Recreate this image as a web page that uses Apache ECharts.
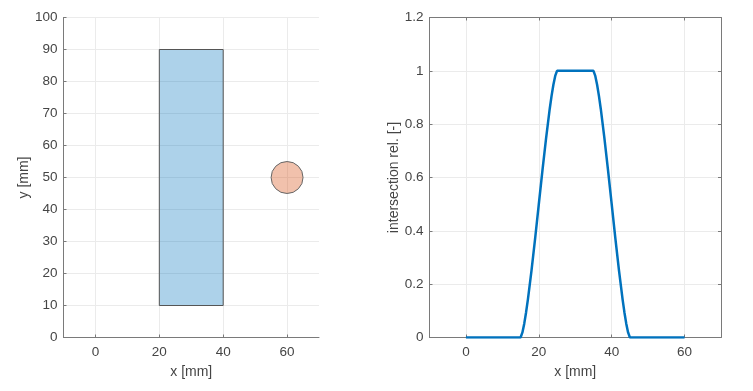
<!DOCTYPE html>
<html><head><meta charset="utf-8">
<script src="https://cdn.jsdelivr.net/npm/echarts@6/dist/echarts.min.js"></script>
<style>html,body{margin:0;padding:0;background:#fff}#c{width:753px;height:391px}</style>
</head><body><div id="c"></div>
<script>
// Left plot shapes
const rectX = [20, 40];
const rectY = [10, 90];
const circleCenter = [60, 50];
const circleRadius = 5;
// Right plot curve
const curveX = [0, 15, 15.5, 16, 16.5, 17, 18, 19, 20, 21, 22, 23, 23.5, 24, 24.5, 25, 35, 35.5, 36, 36.5, 37, 38, 39, 40, 41, 42, 43, 43.5, 44, 44.5, 45, 60];
const curveY = [0, 0, 0.019, 0.052, 0.094, 0.142, 0.252, 0.373, 0.5, 0.627, 0.748, 0.858, 0.906, 0.948, 0.981, 1, 1, 0.981, 0.948, 0.906, 0.858, 0.748, 0.627, 0.5, 0.373, 0.252, 0.142, 0.094, 0.052, 0.019, 0, 0];
// Tick labels
const xTicks = [0, 20, 40, 60];
const yTicksLeft = [0, 10, 20, 30, 40, 50, 60, 70, 80, 90, 100];
const yTicksRight = [0, 0.2, 0.4, 0.6, 0.8, 1, 1.2];

const FONT = 'Liberation Sans, Arial, sans-serif';
const AX = '#7a7a7a';
const LBL = '#454545';
const GRID = '#ebebeb';
const TFS = 13.5;
const NFS = 14;

function xAx(gi, show) {
  return {
    type: 'value', gridIndex: gi, min: -10, max: 70, interval: 20,
    position: show ? 'bottom' : 'top',
    name: show ? 'x [mm]' : '', nameLocation: 'middle', nameGap: 28,
    nameTextStyle: {fontFamily: FONT, fontSize: NFS, color: LBL},
    axisLine: {show: true, onZero: false, lineStyle: {color: AX, width: 1}},
    axisTick: {show: true, inside: true, length: 3, lineStyle: {color: AX},
      customValues: xTicks},
    axisLabel: {show: show, fontFamily: FONT, fontSize: TFS, color: LBL, margin: 8,
      customValues: xTicks},
    splitLine: {show: show, lineStyle: {color: GRID, width: 1}},
    splitArea: {show: false}
  };
}

const option = {
  animation: false,
  backgroundColor: '#fff',
  grid: [
    {left: 63.5, top: 17.5, width: 255.5, height: 320},
    {left: 429.5, top: 17.5, width: 291.5, height: 320}
  ],
  xAxis: [
    xAx(0, true),
    xAx(1, true),
    Object.assign(xAx(1, false), {splitLine: {show: false}, axisLabel: {show: false}})
  ],
  yAxis: [
    {
      type: 'value', gridIndex: 0, min: 0, max: 100, interval: 10,
      name: 'y [mm]', nameLocation: 'middle', nameGap: 28,
      nameTextStyle: {fontFamily: FONT, fontSize: NFS, color: LBL},
      axisLine: {show: true, onZero: false, lineStyle: {color: AX}},
      axisTick: {show: true, inside: true, length: 3, lineStyle: {color: AX}},
      axisLabel: {fontFamily: FONT, fontSize: TFS, color: LBL, margin: 6,
        formatter: v => (yTicksLeft.indexOf(v) >= 0 ? String(v) : '')},
      splitLine: {show: true, lineStyle: {color: GRID}}
    },
    {
      type: 'value', gridIndex: 1, min: 0, max: 1.2, interval: 0.2,
      name: 'intersection rel. [-]', nameLocation: 'middle', nameGap: 28,
      nameTextStyle: {fontFamily: FONT, fontSize: NFS, color: LBL},
      axisLine: {show: true, onZero: false, lineStyle: {color: AX}},
      axisTick: {show: true, inside: true, length: 3, lineStyle: {color: AX}},
      axisLabel: {fontFamily: FONT, fontSize: TFS, color: LBL, margin: 6,
        formatter: v => {
          const r = Math.round(v * 10) / 10;
          return yTicksRight.indexOf(r) >= 0 ? String(r) : '';
        }},
      splitLine: {show: true, lineStyle: {color: GRID}}
    },
    {
      type: 'value', gridIndex: 1, min: 0, max: 1.2, interval: 0.2, position: 'right',
      axisLine: {show: true, onZero: false, lineStyle: {color: AX}},
      axisTick: {show: true, inside: true, length: 3, lineStyle: {color: AX}},
      axisLabel: {show: false},
      splitLine: {show: false}
    }
  ],
  series: [
    {
      type: 'custom', xAxisIndex: 0, yAxisIndex: 0,
      data: [[rectX[0], rectY[0], rectX[1], rectY[1]]],
      renderItem: function (params, api) {
        const p0 = api.coord([api.value(0), api.value(3)]);
        const p1 = api.coord([api.value(2), api.value(1)]);
        return {type: 'rect', shape: {x: p0[0], y: p0[1], width: p1[0] - p0[0], height: p1[1] - p0[1]},
          style: {fill: 'rgba(0,114,189,0.32)', stroke: '#555', lineWidth: 1}};
      }
    },
    {
      type: 'custom', xAxisIndex: 0, yAxisIndex: 0,
      data: [[circleCenter[0], circleCenter[1], circleRadius]],
      renderItem: function (params, api) {
        const c = api.coord([api.value(0), api.value(1)]);
        const s = api.size([api.value(2), api.value(2)]);
        return {type: 'circle', shape: {cx: c[0], cy: c[1], r: s[0]},
          style: {fill: 'rgba(217,83,25,0.36)', stroke: '#666', lineWidth: 1}};
      }
    },
    {
      type: 'line', xAxisIndex: 1, yAxisIndex: 1,
      data: curveX.map((x, i) => [x, curveY[i]]),
      showSymbol: false, symbol: 'none',
      lineStyle: {color: '#0072BD', width: 2.5},
      itemStyle: {color: '#0072BD'}
    }
  ]
};
const chart = echarts.init(document.getElementById('c'), null, {renderer: 'canvas'});
chart.setOption(option);
</script></body></html>
